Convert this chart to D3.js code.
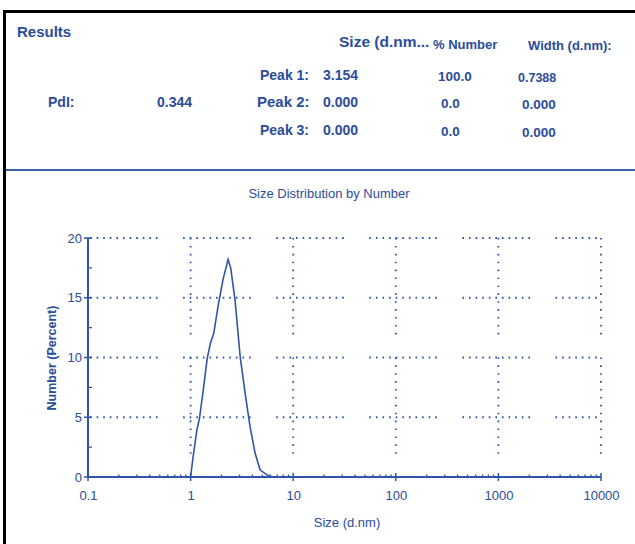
<!DOCTYPE html>
<html>
<head>
<meta charset="utf-8">
<script src="https://cdn.jsdelivr.net/npm/d3@7"></script>
<style>
  body { margin: 0; background: #fff; }
  text { font-family: Arial, "Liberation Sans", sans-serif; fill: #2b4c9b; }
</style>
</head>
<body>
<script>
// data
var sizeNm = [1.00, 1.03, 1.07, 1.15, 1.22, 1.33, 1.45, 1.56, 1.68, 1.87, 2.08, 2.32, 2.46, 2.71, 3.04, 3.40, 3.80, 4.25, 4.75, 5.5, 6.1, 6.4];
var numberPct = [0, 0.9, 2.0, 3.9, 4.9, 7.3, 9.9, 11.2, 12.0, 14.5, 16.6, 18.2, 17.5, 14.8, 10.1, 7.0, 4.2, 2.0, 0.6, 0.2, 0.03, 0];
var xTicks = [0.1, 1, 10, 100, 1000, 10000];
var xTickLabels = ["0.1", "1", "10", "100", "1000", "10000"];
var yTicks = [0, 5, 10, 15, 20];
var yMinor = [2.5, 7.5, 12.5, 17.5];

var peakLabels = ["Peak 1:", "Peak 2:", "Peak 3:"];
var peakSize = ["3.154", "0.000", "0.000"];
var peakNumber = ["100.0", "0.0", "0.0"];
var peakWidth = ["0.7388", "0.000", "0.000"];
var pdiValue = "0.344";

var blue = "#2b4c9b", lineBlue = "#2f56a6";
var w = 635, h = 544;

var svg = d3.select("body").append("svg")
	.attr("width", w)
	.attr("height", h);

// frame
svg.append("line").attr("x1", 3).attr("x2", w).attr("y1", 11.5).attr("y2", 11.5)
	.style("stroke", "#000").style("stroke-width", 3);
svg.append("line").attr("x1", 4.5).attr("x2", 4.5).attr("y1", 10).attr("y2", h)
	.style("stroke", "#000").style("stroke-width", 3);
svg.append("line").attr("x1", 6).attr("x2", w).attr("y1", 170).attr("y2", 170)
	.style("stroke", "#3a5fae").style("stroke-width", 2);

// results table
svg.append("text").attr("x", 17).attr("y", 37).style("font-size", "15px").style("font-weight", "bold").text("Results");
svg.append("text").attr("x", 339).attr("y", 47).style("font-size", "15.5px").style("font-weight", "bold").text("Size (d.nm...");
svg.append("text").attr("x", 433).attr("y", 49).style("font-size", "13px").style("font-weight", "bold").text("% Number");
svg.append("text").attr("x", 528).attr("y", 50).style("font-size", "13px").style("font-weight", "bold").text("Width (d.nm):");

var rowY = [80, 107, 135];
var rowFont = [14, 15, 14];
svg.selectAll(".peakLabel")
	.data(peakLabels)
	.enter()
	.append("text")
	.attr("class", "peakLabel")
	.attr("x", function(d, i){ return i == 1 ? 257 : 260; })
	.attr("y", function(d, i){ return rowY[i]; })
	.style("font-size", function(d, i){ return rowFont[i] + "px"; })
	.style("font-weight", "bold")
	.text(function(d){ return d; });
svg.selectAll(".peakSize")
	.data(peakSize)
	.enter()
	.append("text")
	.attr("x", 323)
	.attr("y", function(d, i){ return rowY[i]; })
	.style("font-size", "14px")
	.style("font-weight", "bold")
	.text(function(d){ return d; });
svg.selectAll(".peakNumber")
	.data(peakNumber)
	.enter()
	.append("text")
	.attr("x", function(d, i){ return i == 0 ? 438 : 441; })
	.attr("y", function(d, i){ return rowY[i] + 1; })
	.style("font-size", "13.5px")
	.style("font-weight", "bold")
	.text(function(d){ return d; });
svg.selectAll(".peakWidth")
	.data(peakWidth)
	.enter()
	.append("text")
	.attr("x", function(d, i){ return i == 0 ? 518 : 522; })
	.attr("y", function(d, i){ return rowY[i] + 2; })
	.style("font-size", function(d, i){ return i == 0 ? "12.5px" : "13.5px"; })
	.style("font-weight", "bold")
	.text(function(d){ return d; });
svg.append("text").attr("x", 48).attr("y", 107).style("font-size", "14px").style("font-weight", "bold").text("PdI:");
svg.append("text").attr("x", 157).attr("y", 107).style("font-size", "14px").style("font-weight", "bold").text(pdiValue);

// chart
var x = d3.scaleLog().domain([0.1, 10000]).range([88, 601]);
var y = d3.scaleLinear().domain([0, 20]).range([477, 238]);

svg.append("text").attr("x", 329).attr("y", 198).attr("text-anchor", "middle")
	.style("font-size", "13px").text("Size Distribution by Number");

// dotted grid, broken into runs of dots like the instrument software
function dots(n, dot, space, gap){
	var a = [];
	for (var i = 0; i < n - 1; i++){ a.push(dot, space); }
	a.push(dot, gap);
	return a.join(" ");
}
svg.selectAll(".hgrid")
	.data(yTicks.slice(1))
	.enter()
	.append("line")
	.attr("class", "hgrid")
	.attr("x1", 90).attr("x2", x(10000))
	.attr("y1", function(d){ return y(d); })
	.attr("y2", function(d){ return y(d); })
	.style("stroke", lineBlue).style("stroke-width", 1.8)
	.style("stroke-dasharray", dots(11, 1.6, 5.0, 25.5));
svg.selectAll(".vgrid")
	.data(xTicks.slice(1))
	.enter()
	.append("line")
	.attr("class", "vgrid")
	.attr("x1", function(d){ return x(d); })
	.attr("x2", function(d){ return x(d); })
	.attr("y1", y(20)).attr("y2", y(0))
	.style("stroke", lineBlue).style("stroke-width", 1.8)
	.style("stroke-dasharray", dots(13, 1.6, 6.3, 23));

// axes
var xAxis = d3.axisBottom(x).tickValues(xTicks).tickSize(0).tickFormat(function(d, i){ return xTickLabels[i]; });
var gx = svg.append("g").attr("transform", "translate(0," + y(0) + ")").call(xAxis);
gx.select(".domain").remove();
gx.selectAll("text").attr("dy", 0).attr("y", 23).style("font-size", "13px").style("fill", blue).style("font-family", "Arial, 'Liberation Sans', sans-serif");

var yAxis = d3.axisLeft(y).tickValues(yTicks).tickSize(0).tickPadding(6);
var gy = svg.append("g").attr("transform", "translate(" + x(0.1) + ",0)").call(yAxis);
gy.select(".domain").remove();
gy.selectAll("text").style("font-size", "13px").style("fill", blue).style("font-family", "Arial, 'Liberation Sans', sans-serif");

svg.append("line").attr("x1", x(0.1)).attr("x2", x(10000)).attr("y1", y(0)).attr("y2", y(0))
	.style("stroke", lineBlue).style("stroke-width", 2);
svg.append("line").attr("x1", x(0.1)).attr("x2", x(0.1)).attr("y1", y(20)).attr("y2", y(0))
	.style("stroke", lineBlue).style("stroke-width", 2);

var minor = [];
xTicks.slice(0, -1).forEach(function(t){
	for (var k = 2; k < 10; k++){ minor.push(t * k); }
});
svg.selectAll(".xminor")
	.data(minor)
	.enter()
	.append("line")
	.attr("x1", function(d){ return x(d); })
	.attr("x2", function(d){ return x(d); })
	.attr("y1", y(0) - 2.5).attr("y2", y(0) + 1)
	.style("stroke", lineBlue).style("stroke-width", 1.3);
svg.selectAll(".xmajor")
	.data(xTicks)
	.enter()
	.append("line")
	.attr("x1", function(d){ return x(d); })
	.attr("x2", function(d){ return x(d); })
	.attr("y1", y(0) - 4).attr("y2", y(0) + 4)
	.style("stroke", lineBlue).style("stroke-width", 1.5);
svg.selectAll(".ymajor")
	.data(yTicks)
	.enter()
	.append("line")
	.attr("x1", x(0.1) - 4).attr("x2", x(0.1) + 4)
	.attr("y1", function(d){ return y(d); })
	.attr("y2", function(d){ return y(d); })
	.style("stroke", lineBlue).style("stroke-width", 1.5);
svg.selectAll(".yminor")
	.data(yMinor)
	.enter()
	.append("line")
	.attr("x1", x(0.1)).attr("x2", x(0.1) + 4)
	.attr("y1", function(d){ return y(d); })
	.attr("y2", function(d){ return y(d); })
	.style("stroke", lineBlue).style("stroke-width", 1.3);

// distribution curve
var line = d3.line()
	.x(function(d){ return x(d[0]); })
	.y(function(d){ return y(d[1]); });
svg.append("path")
	.datum(d3.zip(sizeNm, numberPct))
	.attr("d", line)
	.style("fill", "none")
	.style("stroke", lineBlue)
	.style("stroke-width", 1.6);

// axis titles
svg.append("text").attr("x", 347).attr("y", 527).attr("text-anchor", "middle")
	.style("font-size", "13px").text("Size (d.nm)");
svg.append("text")
	.attr("transform", "translate(56,358) rotate(-90)")
	.attr("text-anchor", "middle")
	.style("font-size", "12.5px").style("font-weight", "bold")
	.text("Number (Percent)");
</script>
</body>
</html>
